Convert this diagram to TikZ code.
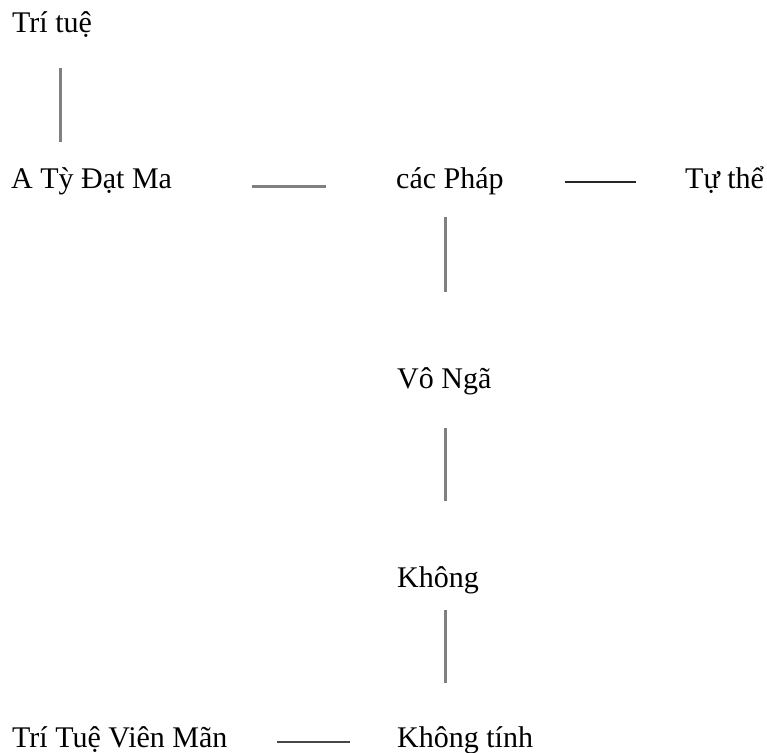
\documentclass[tikz,border=0pt]{standalone}
\usepackage{fontspec}
\setmainfont{Liberation Serif}
\begin{document}
\begin{tikzpicture}[x=1pt,y=1pt,
  lbl/.style={anchor=base west,inner sep=0pt,font=\fontsize{30}{32}\selectfont},
  grayline/.style={draw=black!50,line width=3pt},
  darkline/.style={draw=black!85,line width=2pt},
  midline/.style={draw=black!72,line width=2.5pt}]
\useasboundingbox[fill=white] (0,0) rectangle (767,-752);
\node[lbl] (tritue) at (12,-33) {Trí tuệ};
\node[lbl] (aty) at (11,-188) {A Tỳ Đạt Ma};
\node[lbl] (cacphap) at (396,-188) {các Pháp};
\node[lbl] (tuthe) at (685,-188) {Tự thể};
\node[lbl] (vonga) at (397,-388) {Vô Ngã};
\node[lbl] (khong) at (397,-587) {Không};
\node[lbl] (vien) at (12,-747) {Trí Tuệ Viên Mãn};
\node[lbl] (khongtinh) at (397,-747) {Không tính};
% connector end points
\coordinate (a1) at (60,-68);   \coordinate (a2) at (60,-142);
\coordinate (b1) at (252,-186); \coordinate (b2) at (326,-186);
\coordinate (c1) at (565,-182); \coordinate (c2) at (636,-182);
\coordinate (d1) at (445,-217); \coordinate (d2) at (445,-292);
\coordinate (e1) at (445,-428); \coordinate (e2) at (445,-501);
\coordinate (f1) at (445,-610); \coordinate (f2) at (445,-683);
\coordinate (g1) at (277,-742); \coordinate (g2) at (350,-742);
\draw[grayline] (a1) -- (a2);
\draw[grayline] (b1) -- (b2);
\draw[darkline] (c1) -- (c2);
\draw[grayline] (d1) -- (d2);
\draw[grayline] (e1) -- (e2);
\draw[grayline] (f1) -- (f2);
\draw[midline] (g1) -- (g2);
\end{tikzpicture}
\end{document}
